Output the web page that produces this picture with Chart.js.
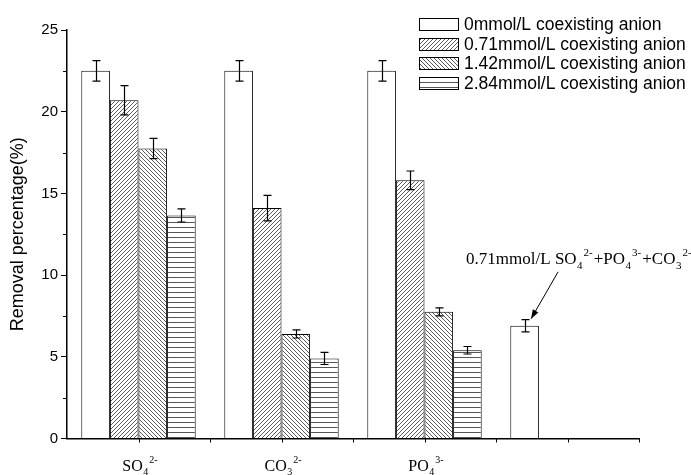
<!DOCTYPE html>
<html><head><meta charset="utf-8">
<script src="https://cdn.jsdelivr.net/npm/chart.js@4/dist/chart.umd.min.js"></script>
<style>html,body{margin:0;padding:0;background:#fff}#wrap{width:691px;height:475px}</style>
</head><body><div id="wrap"><canvas id="c" width="691" height="475"></canvas></div>
<script>
// ---- data ----
const categories = ['SO4 2-', 'CO3 2-', 'PO4 3-', 'mixture'];
const catBase = ['SO', 'CO', 'PO', ''];
const catSub = ['4', '3', '4', ''];
const catSup = ['2-', '2-', '3-', ''];
const seriesLabels = ['0mmol/L coexisting anion', '0.71mmol/L coexisting anion', '1.42mmol/L coexisting anion', '2.84mmol/L coexisting anion'];
const s0 = [22.5, 22.5, 22.5, 6.9];
const s1 = [20.7, 14.1, 15.8, null];
const s2 = [17.75, 6.4, 7.75, null];
const s3 = [13.65, 4.9, 5.4, null];
const err0 = [0.63, 0.63, 0.63, 0.37];
const err1 = [0.9, 0.78, 0.57, null];
const err2 = [0.62, 0.25, 0.25, null];
const err3 = [0.4, 0.37, 0.23, null];
const yTicks = [0, 5, 10, 15, 20, 25];
const yMinorTicks = [2.5, 7.5, 12.5, 17.5, 22.5];
const annotationParts = [['0.71mmol/L ', 'n'], ['SO', 'n'], ['4', 'sub'], ['2-', 'sup'], ['+PO', 'n'], ['4', 'sub'], ['3-', 'sup'], ['+CO', 'n'], ['3', 'sub'], ['2-', 'sup']];

const seriesValues = [s0, s1, s2, s3];
const seriesErrors = [err0, err1, err2, err3];

// ---- patterns ----
function makePattern(kind) {
  const size = kind === 'horiz' ? 5 : 4;
  const c = document.createElement('canvas');
  c.width = size; c.height = size;
  const g = c.getContext('2d');
  g.fillStyle = '#fff'; g.fillRect(0, 0, size, size);
  if (kind !== 'none') {
    g.strokeStyle = '#333'; g.lineWidth = 0.8;
    g.beginPath();
    if (kind === 'fwd') {
      g.moveTo(-1, size + 1); g.lineTo(size + 1, -1);
      g.moveTo(-1, 1); g.lineTo(1, -1);
      g.moveTo(size - 1, size + 1); g.lineTo(size + 1, size - 1);
    } else if (kind === 'back') {
      g.moveTo(-1, -1); g.lineTo(size + 1, size + 1);
      g.moveTo(size - 1, -1); g.lineTo(size + 1, 1);
      g.moveTo(-1, size - 1); g.lineTo(1, size + 1);
    } else if (kind === 'horiz') {
      g.strokeStyle = '#555'; g.lineWidth = 1;
      g.moveTo(0, 2.5); g.lineTo(size, 2.5);
    }
    g.stroke();
  }
  return document.getElementById('c').getContext('2d').createPattern(c, 'repeat');
}
const patterns = [makePattern('none'), makePattern('fwd'), makePattern('back'), makePattern('horiz')];

const SANS = "'Liberation Sans', Arial, sans-serif";
const SERIF = "'Liberation Serif', 'Times New Roman', serif";

function drawChem(ctx, x, y, parts, size) {
  const small = Math.round(size * 0.62);
  let cx = x;
  ctx.textBaseline = 'alphabetic';
  ctx.textAlign = 'left';
  for (const [t, type] of parts) {
    if (type === 'n') {
      ctx.font = size + 'px ' + SERIF;
      ctx.fillText(t, cx, y);
      cx += ctx.measureText(t).width;
    } else if (type === 'sub') {
      ctx.font = small + 'px ' + SERIF;
      ctx.fillText(t, cx + 0.5, y + size * 0.3);
      cx += ctx.measureText(t).width + 1.5;
    } else {
      ctx.font = small + 'px ' + SERIF;
      ctx.fillText(t, cx, y - size * 0.45);
      cx += ctx.measureText(t).width + 1;
    }
  }
  return cx - x;
}
function measureChem(ctx, parts, size) {
  const small = Math.round(size * 0.62);
  let w = 0;
  for (const [t, type] of parts) {
    ctx.font = (type === 'n' ? size : small) + 'px ' + SERIF;
    w += ctx.measureText(t).width + (type === 'sub' ? 1.5 : type === 'sup' ? 1 : 0);
  }
  return w;
}

const extrasPlugin = {
  id: 'extras',
  afterDatasetsDraw(chart) {
    const ctx = chart.ctx;
    const y = chart.scales.y;
    ctx.save();
    ctx.strokeStyle = '#000';
    ctx.lineWidth = 1.2;
    seriesValues.forEach((vals, di) => {
      const meta = chart.getDatasetMeta(di);
      vals.forEach((v, j) => {
        const e = seriesErrors[di][j];
        if (v === null || e === null) return;
        const el = meta.data[j];
        const x = Math.round(el.x) + 0.5;
        const yt = y.getPixelForValue(v + e);
        const yb = y.getPixelForValue(v - e);
        ctx.beginPath();
        ctx.moveTo(x, yt); ctx.lineTo(x, yb);
        ctx.moveTo(x - 4, yt); ctx.lineTo(x + 4, yt);
        ctx.moveTo(x - 4, yb); ctx.lineTo(x + 4, yb);
        ctx.stroke();
      });
    });
    ctx.restore();
  },
  afterDraw(chart) {
    const ctx = chart.ctx;
    const xs = chart.scales.x, ys = chart.scales.y;
    const area = chart.chartArea;
    ctx.save();
    ctx.strokeStyle = '#000';
    ctx.lineWidth = 1;
    // minor y ticks
    yMinorTicks.forEach(v => {
      const py = Math.round(ys.getPixelForValue(v)) + 0.5;
      ctx.beginPath(); ctx.moveTo(area.left - 4, py); ctx.lineTo(area.left, py); ctx.stroke();
    });
    // x ticks at centers and boundaries
    for (let k = 1; k <= categories.length * 2; k++) {
      const v = k / 2 - 0.5;
      const px = Math.round(xs.getPixelForValue(v)) + 0.5;
      ctx.beginPath(); ctx.moveTo(px, area.bottom); ctx.lineTo(px, area.bottom + 4); ctx.stroke();
    }
    // category labels
    ctx.fillStyle = '#000';
    for (let i = 0; i < categories.length; i++) {
      if (!catBase[i]) continue;
      const parts = [[catBase[i], 'n'], [catSub[i], 'sub'], [catSup[i], 'sup']];
      const w = measureChem(ctx, parts, 16);
      const cx = xs.getPixelForValue(i);
      drawChem(ctx, cx - w / 2 + 2, area.bottom + 32, parts, 16);
    }
    // legend
    const lx = 419, ly0 = 24, step = 19.7, bw = 39, bh = 12;
    seriesLabels.forEach((lab, i) => {
      const cy = ly0 + i * step;
      ctx.fillStyle = patterns[i];
      ctx.fillRect(lx, Math.round(cy - bh / 2), bw, bh);
      ctx.strokeStyle = '#000'; ctx.lineWidth = 1;
      ctx.strokeRect(lx + 0.5, Math.round(cy - bh / 2) + 0.5, bw, bh);
      ctx.fillStyle = '#000';
      ctx.font = '17.5px ' + SANS;
      ctx.textBaseline = 'middle'; ctx.textAlign = 'left';
      ctx.fillText(lab, lx + bw + 6, cy + 1);
    });
    // annotation for the mixture bar
    const mixEl = chart.getDatasetMeta(0).data[3];
    const tipX = mixEl.x + 6.5, tipY = ys.getPixelForValue(s0[3] + err0[3]) - 1;
    const startX = mixEl.x + 33.5, startY = ys.getPixelForValue(10.2);
    ctx.fillStyle = '#000';
    drawChem(ctx, mixEl.x - 58.5, ys.getPixelForValue(10.7), annotationParts, 17);
    ctx.strokeStyle = '#000'; ctx.lineWidth = 1;
    ctx.beginPath(); ctx.moveTo(startX, startY); ctx.lineTo(tipX, tipY); ctx.stroke();
    const ang = Math.atan2(tipY - startY, tipX - startX);
    const L = 9, W = 3.2;
    ctx.beginPath();
    ctx.moveTo(tipX, tipY);
    ctx.lineTo(tipX - L * Math.cos(ang) + W * Math.sin(ang), tipY - L * Math.sin(ang) - W * Math.cos(ang));
    ctx.lineTo(tipX - L * Math.cos(ang) - W * Math.sin(ang), tipY - L * Math.sin(ang) + W * Math.cos(ang));
    ctx.closePath(); ctx.fill();
    ctx.restore();
  }
};

new Chart(document.getElementById('c'), {
  type: 'bar',
  data: {
    labels: categories,
    datasets: seriesLabels.map((lab, i) => ({
      label: lab,
      data: seriesValues[i],
      backgroundColor: patterns[i],
      borderColor: '#000',
      borderWidth: 1,
      barPercentage: 1,
      categoryPercentage: 0.8
    }))
  },
  options: {
    responsive: false,
    animation: false,
    devicePixelRatio: 1,
    layout: { padding: { left: 0, right: 52, top: 30, bottom: 0 } },
    plugins: { legend: { display: false }, tooltip: { enabled: false } },
    scales: {
      x: {
        ticks: { display: false },
        grid: { display: false },
        border: { display: true, color: '#000', width: 1.5 },
        afterFit: (s) => { s.height = 36.5; }
      },
      y: {
        min: 0, max: 25,
        afterBuildTicks: (s) => { s.ticks = yTicks.map(v => ({ value: v })); },
        ticks: { color: '#000', font: { family: SANS, size: 15 }, padding: 3 },
        grid: { drawOnChartArea: false, drawTicks: true, tickLength: 6, tickColor: '#000', tickWidth: 1 },
        border: { display: true, color: '#000', width: 1.5 },
        title: { display: true, text: 'Removal percentage(%)', color: '#000', font: { family: SANS, size: 18 }, padding: { top: 7, bottom: 0 } },
        afterFit: (s) => { s.width = 67; }
      }
    }
  },
  plugins: [extrasPlugin]
});
</script>
</body></html>
